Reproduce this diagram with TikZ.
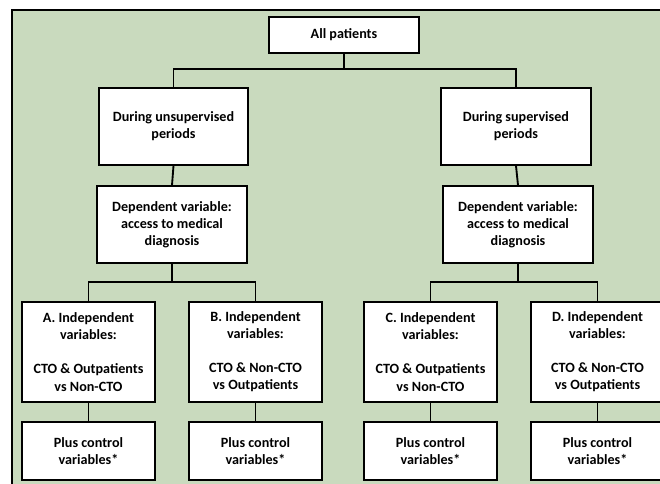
\documentclass[tikz,border=0pt]{standalone}
\usepackage{fontspec}
\setmainfont{Carlito}
\definecolor{bggreen}{RGB}{201,218,190}
\begin{document}
\begin{tikzpicture}[x=0.75pt,y=-0.75pt,
  box/.style={draw=black,line width=1.4pt,fill=white,align=center,inner sep=0pt,
    font=\fontsize{10.6pt}{12.8pt}\selectfont\bfseries},
  wide/.style={box,minimum width=112pt,minimum height=57.5pt},
  sub/.style={box,minimum width=99.5pt,minimum height=75pt},
  plus/.style={box,minimum width=99.5pt,minimum height=43.5pt},
  conn/.style={draw=black,line width=1.4pt}]
\useasboundingbox (0,0) rectangle (660,484);
\fill[white] (0,0) rectangle (660,484);
\draw[fill=bggreen,draw=black,line width=2pt] (12,10) rectangle (680,500);
\node[box,minimum width=112pt,minimum height=27pt] (all) at (344,35) {All patients};
\node[wide] (unsup) at (173.5,126.5) {During unsupervised\\periods};
\node[wide] (sup) at (516,126.5) {During supervised\\periods};
\node[wide] (depL) at (172,224.5) {Dependent variable:\\access to medical\\diagnosis};
\node[wide] (depR) at (518,224.5) {Dependent variable:\\access to medical\\diagnosis};
\node[sub] (A) at (88.5,352) {A. Independent\\variables:\\[12.8pt]CTO \& Outpatients\\vs Non-CTO};
\node[sub] (B) at (255.5,352) {B. Independent\\variables:\\[12.8pt]CTO \& Non-CTO\\vs Outpatients};
\node[sub] (C) at (430.5,352) {C. Independent\\variables:\\[12.8pt]CTO \& Outpatients\\vs Non-CTO};
\node[sub] (D) at (597.5,352) {D. Independent\\variables:\\[12.8pt]CTO \& Non-CTO\\vs Outpatients};
\node[plus] (PA) at (88.5,451) {Plus control\\variables*};
\node[plus] (PB) at (255.5,451) {Plus control\\variables*};
\node[plus] (PC) at (430.5,451) {Plus control\\variables*};
\node[plus] (PD) at (597.5,451) {Plus control\\variables*};
\coordinate (j1) at (344,69);
\coordinate (j2) at (172,282);
\coordinate (j3) at (518,282);
\draw[conn] (all.south) -- (j1);
\draw[conn] (j1) -| (unsup.north);
\draw[conn] (j1) -| (sup.north);
\draw[conn] (unsup.south) -- (depL.north);
\draw[conn] (sup.south) -- (depR.north);
\draw[conn] (depL.south) -- (j2);
\draw[conn] (j2) -| (A.north);
\draw[conn] (j2) -| (B.north);
\draw[conn] (depR.south) -- (j3);
\draw[conn] (j3) -| (C.north);
\draw[conn] (j3) -| (D.north);
\draw[conn] (A.south) -- (PA.north);
\draw[conn] (B.south) -- (PB.north);
\draw[conn] (C.south) -- (PC.north);
\draw[conn] (D.south) -- (PD.north);
\end{tikzpicture}
\end{document}
